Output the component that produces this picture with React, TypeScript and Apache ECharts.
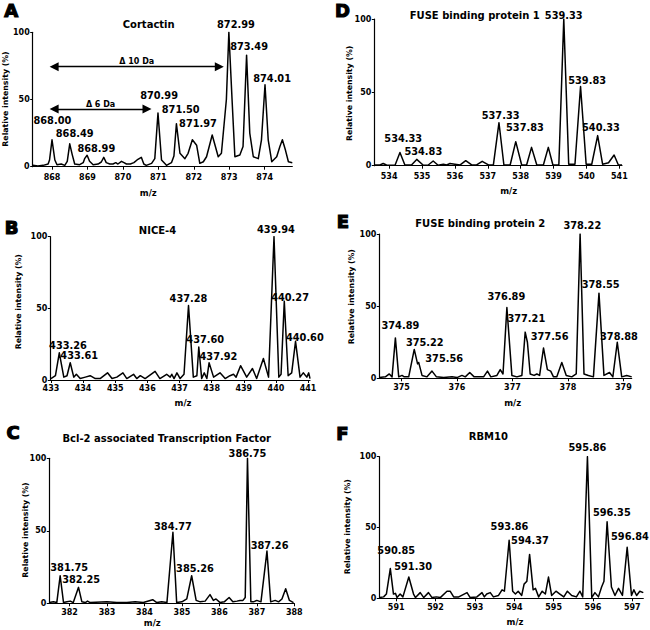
import React, { useEffect, useRef } from "react";
import * as echarts from "echarts";

const FONT = '"DejaVu Sans", sans-serif';

// ---------- Panel A: Cortactin ----------
const cortactinSpectrum: [number, number][] = [
  [867.46, 1], [867.6, 0.5], [867.75, 1], [867.89, 2], [867.93, 5], [868.0, 20], [868.08, 5], [868.14, 1.5],
  [868.26, 2], [868.36, 1], [868.43, 4], [868.5, 17], [868.57, 9], [868.64, 2], [868.78, 1.5], [868.88, 3],
  [868.92, 6], [868.99, 8.5], [869.06, 4], [869.16, 1.5], [869.3, 2], [869.39, 3.5], [869.46, 7], [869.53, 3],
  [869.63, 2], [869.72, 2], [869.8, 3], [869.86, 2], [869.96, 4], [870.03, 3], [870.1, 2], [870.21, 2],
  [870.31, 3], [870.4, 5], [870.46, 6], [870.52, 7], [870.59, 2], [870.66, 1], [870.81, 2.5], [870.9, 6],
  [870.99, 40], [871.09, 5], [871.23, 1], [871.37, 3], [871.44, 8], [871.51, 32], [871.61, 10], [871.75, 6],
  [871.84, 10], [871.96, 20], [872.08, 16], [872.17, 2.5], [872.27, 3.7], [872.36, 7.4], [872.52, 23.6],
  [872.69, 7.4], [872.78, 10], [872.92, 50], [872.99, 100], [873.08, 50], [873.16, 7.4], [873.3, 8.7],
  [873.39, 15], [873.49, 83], [873.58, 25], [873.68, 7.4], [873.82, 6], [873.91, 20], [874.01, 61],
  [874.1, 20], [874.2, 3.7], [874.34, 7.4], [874.43, 15], [874.5, 20], [874.59, 12], [874.67, 3.7], [874.78, 3],
];
const cortactinPeakLabels = ["868.00", "868.49", "868.99", "870.99", "871.50", "871.97", "872.99", "873.49", "874.01"];
const cortactinLabelPos: [number, number][] = [
  [868.01, 34.7], [868.64, 24.8], [869.25, 13.6], [871.02, 52.9], [871.63, 42.7], [872.12, 31.8],
  [873.19, 105.5], [873.56, 89.3], [874.21, 65.8],
];
const cortactinTicks = [868, 869, 870, 871, 872, 873, 874];
const cortactinArrowText = ["Δ 10 Da", "Δ 6 Da"];
const cortactinArrowFrom = [868.06, 868.06];
const cortactinArrowTo = [872.72, 870.68];
const cortactinArrowLevel = [74.4, 42.9];

// ---------- Panel B: NICE-4 ----------
const nice4Spectrum: [number, number][] = [
  [433.0, 1], [433.14, 3], [433.26, 19], [433.4, 2], [433.5, 3], [433.6, 12], [433.71, 2], [433.79, 4],
  [433.91, 1], [434.07, 2], [434.22, 3], [434.38, 1], [434.53, 1], [434.76, 5], [434.9, 1], [435.05, 2],
  [435.24, 5], [435.36, 1], [435.57, 4], [435.67, 1], [435.78, 3], [435.93, 1], [436.24, 6], [436.39, 1],
  [436.6, 4], [436.71, 2], [436.76, 4], [436.83, 1], [436.92, 5], [437.02, 1], [437.14, 4], [437.28, 52],
  [437.43, 2], [437.54, 3], [437.6, 23], [437.69, 1], [437.77, 5], [437.85, 1], [437.92, 12], [438.06, 2],
  [438.26, 5], [438.42, 1], [438.57, 3], [438.68, 4], [438.76, 2], [438.9, 10], [439.09, 2], [439.27, 8],
  [439.4, 1], [439.61, 15], [439.77, 2], [439.94, 100], [440.09, 2], [440.16, 4], [440.26, 55], [440.38, 3],
  [440.49, 5], [440.61, 27], [440.75, 2], [440.85, 5], [440.96, 2], [441.02, 5], [441.06, 1],
];
const nice4PeakLabels = ["433.26", "433.61", "437.28", "437.60", "437.92", "439.94", "440.27", "440.60"];
const nice4LabelPos: [number, number][] = [
  [433.53, 24.4], [433.88, 17], [437.28, 57], [437.8, 28.4], [438.21, 16.7], [440.0, 105], [440.44, 57.7], [440.9, 29.5],
];
const nice4Ticks = [433, 434, 435, 436, 437, 438, 439, 440, 441];

// ---------- Panel C: Bcl-2 associated Transcription Factor ----------
const bclafSpectrum: [number, number][] = [
  [381.46, 0.5], [381.57, 1], [381.66, 0.5], [381.75, 19], [381.84, 0.5], [381.93, 1], [382.02, 1.5],
  [382.1, 0.5], [382.24, 11], [382.33, 1], [382.42, 0.5], [382.48, 1.5], [382.55, 0.5], [383.0, 1],
  [383.26, 0.5], [383.53, 0.5], [383.75, 1], [383.97, 0.5], [384.22, 2.5], [384.33, 0.5], [384.46, 1],
  [384.6, 0.5], [384.76, 49], [384.86, 0.5], [385.0, 1], [385.13, 3], [385.26, 19], [385.38, 2], [385.49, 1],
  [385.62, 1.5], [385.75, 6], [385.84, 2], [385.91, 3], [386.02, 0.5], [386.13, 1], [386.26, 4], [386.36, 1],
  [386.47, 1.5], [386.55, 2], [386.63, 2], [386.69, 4], [386.75, 100], [386.84, 1], [386.91, 1], [387.0, 2],
  [387.11, 1], [387.27, 36], [387.37, 1], [387.49, 2], [387.58, 1], [387.67, 3], [387.77, 10], [387.87, 2],
  [387.98, 0.5],
];
const bclafPeakLabels = ["381.75", "382.25", "384.77", "385.26", "386.75", "387.26"];
const bclafLabelPos: [number, number][] = [
  [381.99, 24.6], [382.31, 16.1], [384.76, 53.3], [385.35, 24.1], [386.75, 103.4], [387.34, 40.2],
];
const bclafTicks = [382, 383, 384, 385, 386, 387, 388];

// ---------- Panel D: FUSE binding protein 1 ----------
const fbp1Spectrum: [number, number][] = [
  [533.55, 0.5], [533.72, 0.5], [533.82, 1.5], [533.92, 0.5], [534.18, 0.3], [534.33, 9], [534.48, 0.5],
  [534.68, 0.5], [534.84, 4.3], [535.04, 0.3], [535.19, 0.5], [535.34, 3.2], [535.49, 0.3], [535.65, 1],
  [535.75, 0.5], [535.85, 1.5], [536.0, 1], [536.16, 0.5], [536.33, 3.4], [536.51, 0.5], [536.66, 0.5],
  [536.83, 3], [537.02, 0.5], [537.17, 0.5], [537.34, 29.3], [537.49, 0.5], [537.68, 0.5], [537.85, 16.4],
  [538.03, 0.5], [538.18, 0.5], [538.33, 12.5], [538.49, 0.5], [538.69, 0.5], [538.84, 12.5], [538.98, 0.5],
  [539.16, 0.5], [539.31, 100], [539.46, 1], [539.65, 1], [539.82, 54], [539.99, 1], [540.16, 1],
  [540.34, 20.5], [540.49, 1], [540.67, 2], [540.84, 7.3], [540.97, 0.5], [541.08, 0.5],
];
const fbp1PeakLabels = ["534.33", "534.83", "537.33", "537.83", "539.33", "539.83", "540.33"];
const fbp1LabelPos: [number, number][] = [
  [534.43, 18.6], [535.04, 9.5], [537.39, 34.5], [538.13, 25.9], [539.31, 102.7], [540.02, 58.4], [540.44, 25.9],
];
const fbp1Ticks = [534, 535, 536, 537, 538, 539, 540, 541];

// ---------- Panel E: FUSE binding protein 2 ----------
const fbp2Spectrum: [number, number][] = [
  [374.6, 0.5], [374.71, 1], [374.78, 3], [374.83, 1], [374.89, 28], [374.95, 1], [375.01, 2], [375.05, 1],
  [375.13, 1], [375.23, 20], [375.29, 10], [375.31, 11], [375.37, 2], [375.46, 1], [375.55, 5], [375.63, 1],
  [375.76, 0.5], [375.91, 1], [376.0, 0.5], [376.09, 2], [376.15, 1], [376.23, 4], [376.31, 1], [376.48, 1],
  [376.55, 5], [376.61, 1], [376.72, 2], [376.78, 6], [376.83, 3], [376.9, 49], [376.99, 2], [377.08, 1],
  [377.17, 2], [377.23, 32], [377.27, 25], [377.32, 3], [377.39, 2], [377.44, 3], [377.49, 2], [377.56, 21],
  [377.63, 6], [377.69, 5], [377.74, 1], [377.8, 1], [377.89, 11], [377.97, 2], [378.07, 1], [378.15, 3],
  [378.22, 100], [378.29, 3], [378.37, 2], [378.46, 1], [378.56, 59], [378.65, 2], [378.75, 4], [378.81, 1],
  [378.89, 25], [378.97, 1], [379.06, 2], [379.15, 1],
];
const fbp2PeakLabels = ["374.89", "375.22", "375.56", "376.89", "377.21", "377.56", "378.22", "378.55", "378.88"];
const fbp2LabelPos: [number, number][] = [
  [374.98, 36.5], [375.42, 24.7], [375.77, 13.4], [376.89, 56.6], [377.25, 41.6], [377.67, 28.9],
  [378.26, 105.8], [378.59, 64.7], [378.92, 29.3],
];
const fbp2Ticks = [375, 376, 377, 378, 379];

// ---------- Panel F: RBM10 ----------
const rbm10Spectrum: [number, number][] = [
  [590.58, 0.5], [590.68, 1], [590.75, 3], [590.85, 21], [590.93, 3], [590.98, 3.5], [591.02, 0.5],
  [591.1, 3], [591.17, 1], [591.32, 15], [591.44, 3], [591.49, 0.5], [591.61, 4], [591.7, 0.5], [591.82, 4],
  [591.91, 0.5], [592.02, 1], [592.12, 0.5], [592.29, 5], [592.37, 5], [592.46, 1], [592.59, 1], [592.8, 4],
  [592.88, 0.5], [593.05, 1], [593.18, 4], [593.24, 1], [593.3, 3], [593.39, 4], [593.47, 1], [593.6, 2],
  [593.69, 6], [593.75, 5], [593.87, 41], [593.96, 5], [594.03, 3], [594.1, 5], [594.19, 2], [594.25, 10],
  [594.32, 12], [594.39, 31], [594.48, 6], [594.54, 7], [594.62, 1], [594.71, 5], [594.79, 3], [594.87, 15],
  [594.95, 2], [595.06, 5], [595.16, 3], [595.26, 1], [595.35, 5], [595.46, 2], [595.58, 1], [595.67, 5],
  [595.74, 1], [595.86, 100], [595.97, 0.5], [596.05, 4], [596.14, 1], [596.22, 8], [596.28, 12],
  [596.36, 54], [596.47, 8], [596.56, 2], [596.65, 7], [596.75, 2], [596.87, 36], [596.98, 2], [597.04, 6],
  [597.11, 2], [597.19, 5], [597.28, 4],
];
const rbm10PeakLabels = ["590.85", "591.30", "593.86", "594.37", "595.86", "596.35", "596.84"];
const rbm10LabelPos: [number, number][] = [
  [591.0, 34], [591.43, 22.4], [593.88, 50.6], [594.4, 40.7], [595.86, 106.6], [596.48, 60.5], [596.94, 43.5],
];
const rbm10Ticks = [591, 592, 593, 594, 595, 596, 597];

const yTicks = [0, 50, 100];
const yAxisTitle = "Relative intensity (%)";
const xAxisTitle = "m/z";

type Panel = {
  letter: string;
  title: string;
  spectrum: [number, number][];
  labels: string[];
  labelPos: [number, number][];
  ticks: number[];
  xMin: number;
  xMax: number;
  rect: [number, number, number, number]; // left, top, right, bottom
  margin: number;
  letterXY: [number, number];
  titleXY: [number, number];
  mzXY: [number, number];
  ylabXY: [number, number];
};

const panels: Panel[] = [
  {
    letter: "A", title: "Cortactin", spectrum: cortactinSpectrum, labels: cortactinPeakLabels,
    labelPos: cortactinLabelPos, ticks: cortactinTicks, xMin: 867.455, xMax: 874.78,
    rect: [32.7, 32.3, 292.3, 166.7], margin: 6.5,
    letterXY: [11.3, 10], titleXY: [148.7, 24.8], mzXY: [148.3, 192.7], ylabXY: [5.5, 99],
  },
  {
    letter: "D", title: "FUSE binding protein 1", spectrum: fbp1Spectrum, labels: fbp1PeakLabels,
    labelPos: fbp1LabelPos, ticks: fbp1Ticks, xMin: 533.55, xMax: 541.08,
    rect: [374.3, 19, 622, 165.7], margin: 7,
    letterXY: [342.5, 10], titleXY: [474.7, 15.8], mzXY: [508.7, 190.7], ylabXY: [349, 93.3],
  },
  {
    letter: "B", title: "NICE-4", spectrum: nice4Spectrum, labels: nice4PeakLabels,
    labelPos: nice4LabelPos, ticks: nice4Ticks, xMin: 432.98, xMax: 441.06,
    rect: [50.3, 236.7, 310, 380], margin: 4.5,
    letterXY: [11.7, 227.5], titleXY: [157.5, 230], mzXY: [183, 402.7], ylabXY: [18.7, 301.7],
  },
  {
    letter: "E", title: "FUSE binding protein 2", spectrum: fbp2Spectrum, labels: fbp2PeakLabels,
    labelPos: fbp2LabelPos, ticks: fbp2Ticks, xMin: 374.6, xMax: 379.15,
    rect: [379.3, 234, 631.7, 378.3], margin: 5.5,
    letterXY: [343, 221.7], titleXY: [480.3, 223.3], mzXY: [512.7, 402.7], ylabXY: [351, 296.7],
  },
  {
    letter: "C", title: "Bcl-2 associated Transcription Factor", spectrum: bclafSpectrum, labels: bclafPeakLabels,
    labelPos: bclafLabelPos, ticks: bclafTicks, xMin: 381.46, xMax: 388.0,
    rect: [49.3, 458.3, 294.3, 603.3], margin: 5,
    letterXY: [13, 432.5], titleXY: [166.7, 438], mzXY: [152.3, 623.3], ylabXY: [25, 530],
  },
  {
    letter: "F", title: "RBM10", spectrum: rbm10Spectrum, labels: rbm10PeakLabels,
    labelPos: rbm10LabelPos, ticks: rbm10Ticks, xMin: 590.57, xMax: 597.28,
    rect: [379.3, 456.7, 643.3, 598.3], margin: 5.5,
    letterXY: [342.5, 433], titleXY: [488.3, 436.7], mzXY: [515, 621.7], ylabXY: [347.5, 526.7],
  },
];

function txt(x: number, y: number, text: string, size: number, weight: string, rotation = 0, stroke = 0) {
  const style: any = {
    text, fill: "#000", fontSize: size, fontWeight: weight, fontFamily: FONT,
    align: "center", verticalAlign: "middle", textAlign: "center", textVerticalAlign: "middle",
  };
  if (stroke > 0) {
    style.stroke = "#000";
    style.lineWidth = stroke;
  }
  return { type: "text", x, y, rotation, silent: true, style };
}

function buildOption() {
  const grid: any[] = [];
  const xAxis: any[] = [];
  const yAxis: any[] = [];
  const series: any[] = [];
  const graphic: any[] = [];

  panels.forEach((p, i) => {
    const [l, t, r, b] = p.rect;
    grid.push({ left: l, top: t, width: r - l, height: b - t, containLabel: false });
    xAxis.push({
      type: "value", gridIndex: i, min: p.xMin, max: p.xMax,
      axisLine: { show: true, onZero: false, lineStyle: { color: "#000", width: 1.2 } },
      axisTick: { show: true, length: 3, customValues: p.ticks, lineStyle: { color: "#000", width: 1 } },
      axisLabel: {
        customValues: p.ticks, color: "#000", fontFamily: FONT, fontWeight: "bold", fontSize: 8, margin: p.margin,
      },
      splitLine: { show: false },
    });
    yAxis.push({
      type: "value", gridIndex: i, min: 0, max: 100, interval: 50,
      axisLine: { show: true, lineStyle: { color: "#000", width: 1.2 } },
      axisTick: { show: true, length: 2.5, lineStyle: { color: "#000", width: 1 } },
      axisLabel: {
        customValues: yTicks, color: "#000", fontFamily: FONT, fontWeight: "bold", fontSize: 8, margin: 3,
      },
      splitLine: { show: false },
    });
    const line: any = {
      type: "line", xAxisIndex: i, yAxisIndex: i, data: p.spectrum, symbol: "none", showSymbol: false,
      silent: true, lineStyle: { color: "#000", width: 1.5, join: "round" }, z: 2,
    };
    if (i === 0) {
      line.markLine = {
        silent: true, animation: false,
        symbol: ["triangle", "triangle"], symbolSize: [9, 9],
        lineStyle: { color: "#000", width: 1.3, type: "solid" },
        itemStyle: { color: "#000" },
        label: {
          show: true, position: "middle", formatter: "{b}", distance: 1,
          fontFamily: FONT, fontWeight: "bold", fontSize: 8, color: "#000",
        },
        emphasis: { disabled: true },
        data: cortactinArrowText.map((name, k) => [
          { name, coord: [cortactinArrowFrom[k], cortactinArrowLevel[k]] },
          { coord: [cortactinArrowTo[k], cortactinArrowLevel[k]] },
        ]),
      };
    }
    series.push(line);
    series.push({
      type: "scatter", xAxisIndex: i, yAxisIndex: i, silent: true, clip: false, symbolSize: 1,
      itemStyle: { color: "rgba(0,0,0,0)" },
      data: p.labelPos.map((v, k) => ({ value: v, name: p.labels[k] })),
      label: {
        show: true, position: "inside", formatter: "{b}", color: "#000",
        textBorderWidth: 0, opacity: 1,
        fontFamily: FONT, fontWeight: "bold", fontSize: 9.8,
      },
      z: 3,
    });
    graphic.push(txt(p.letterXY[0], p.letterXY[1], p.letter, 18, "bold", 0, 1.2));
    graphic.push(txt(p.titleXY[0], p.titleXY[1], p.title, 10, "bold"));
    graphic.push(txt(p.mzXY[0], p.mzXY[1], xAxisTitle, 8.5, "bold"));
    graphic.push(txt(p.ylabXY[0], p.ylabXY[1], yAxisTitle, 7.8, "bold", Math.PI / 2));
  });

  return {
    animation: false,
    backgroundColor: "#fff",
    grid, xAxis, yAxis, series, graphic,
  };
}

export default function App() {
  const ref = useRef<HTMLDivElement>(null);
  useEffect(() => {
    document.body.style.margin = "0";
    if (!ref.current) return;
    const chart = echarts.init(ref.current, undefined, { renderer: "svg" });
    chart.setOption(buildOption() as any);
    return () => chart.dispose();
  }, []);
  return <div ref={ref} style={{ width: 650, height: 630, background: "#fff" }} />;
}
